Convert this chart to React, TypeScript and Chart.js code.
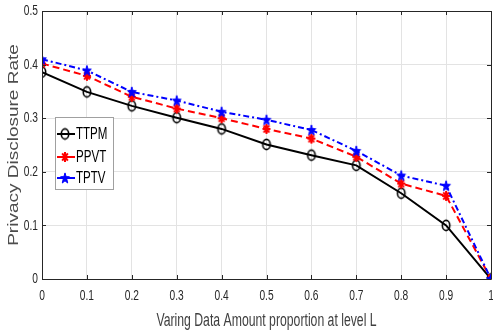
import React, { useEffect, useRef } from "react";
import { Chart, registerables } from "chart.js";

Chart.register(...registerables);

const xValues = [0, 0.1, 0.2, 0.3, 0.4, 0.5, 0.6, 0.7, 0.8, 0.9, 1];
const yTicks = [0, 0.1, 0.2, 0.3, 0.4, 0.5];
const ttpm = [0.386, 0.349, 0.323, 0.301, 0.280, 0.251, 0.231, 0.212, 0.160, 0.100, 0.0];
const ppvt = [0.402, 0.379, 0.340, 0.318, 0.300, 0.280, 0.262, 0.228, 0.178, 0.155, 0.0];
const tptv = [0.410, 0.389, 0.349, 0.333, 0.312, 0.297, 0.278, 0.239, 0.193, 0.174, 0.0];
const seriesNames = ["TTPM", "PPVT", "TPTV"];
const xTitle = "Varing Data Amount proportion at level L";
const yTitle = "Privacy Disclosure Rate";

const FONT = "'Liberation Sans', Arial, sans-serif";
const SQ = 0.68;

function makePentagram(rx: number, ry: number, color: string) {
  const w = Math.ceil(rx * 2 + 4), h = Math.ceil(ry * 2 + 4);
  const c = document.createElement("canvas");
  c.width = w;
  c.height = h;
  const ctx = c.getContext("2d")!;
  const cx = w / 2, cy = h / 2 + 0.5;
  ctx.beginPath();
  for (let i = 0; i < 10; i++) {
    const k = i % 2 === 0 ? 1 : 0.42;
    const a = -Math.PI / 2 + (i * Math.PI) / 5;
    const x = cx + rx * k * Math.cos(a);
    const y = cy + ry * k * Math.sin(a);
    if (i === 0) ctx.moveTo(x, y);
    else ctx.lineTo(x, y);
  }
  ctx.closePath();
  ctx.fillStyle = color;
  ctx.fill();
  ctx.strokeStyle = color;
  ctx.lineWidth = 1;
  ctx.stroke();
  return c;
}

function makeAsterisk(rx: number, ry: number, color: string) {
  const w = Math.ceil(rx * 2 + 4), h = Math.ceil(ry * 2 + 4);
  const c = document.createElement("canvas");
  c.width = w;
  c.height = h;
  const ctx = c.getContext("2d")!;
  const cx = w / 2, cy = h / 2;
  ctx.strokeStyle = color;
  ctx.lineWidth = 2;
  ctx.beginPath();
  for (let i = 0; i < 4; i++) {
    const a = (i * Math.PI) / 4;
    ctx.moveTo(cx - rx * Math.cos(a), cy - ry * Math.sin(a));
    ctx.lineTo(cx + rx * Math.cos(a), cy + ry * Math.sin(a));
  }
  ctx.stroke();
  return c;
}

function makeEllipse(rx: number, ry: number, color: string) {
  const w = Math.ceil(rx * 2 + 4), h = Math.ceil(ry * 2 + 4);
  const c = document.createElement("canvas");
  c.width = w;
  c.height = h;
  const ctx = c.getContext("2d")!;
  ctx.strokeStyle = color;
  ctx.lineWidth = 1.6;
  ctx.beginPath();
  ctx.ellipse(w / 2, h / 2, rx, ry, 0, 0, Math.PI * 2);
  ctx.stroke();
  return c;
}

function drawText(ctx: CanvasRenderingContext2D, text: string, x: number, y: number, align: CanvasTextAlign, size: number, color: string) {
  ctx.save();
  ctx.translate(x, y);
  ctx.scale(SQ, 1);
  ctx.font = `${size}px ${FONT}`;
  ctx.fillStyle = color;
  ctx.textAlign = align;
  ctx.textBaseline = "middle";
  ctx.fillText(text, 0, 0);
  ctx.restore();
}

const fmt = (v: number) => String(Math.round(v * 10) / 10);

export default function App() {
  const ref = useRef<HTMLCanvasElement>(null);

  useEffect(() => {
    document.body.style.margin = "0";
    const star = makePentagram(4.6, 5.6, "#0000ff");
    const aster = makeAsterisk(4, 5, "#ff0000");
    const ring = makeEllipse(3.7, 5.1, "#000000");

    const boxPlugin = {
      id: "boxPlugin",
      afterDatasetsDraw(chart: any) {
        const { ctx, chartArea } = chart;
        const { left, right, top, bottom } = chartArea;
        const xs = chart.scales.x;
        const ys = chart.scales.y;
        ctx.save();
        ctx.strokeStyle = "#262626";
        ctx.lineWidth = 1;
        ctx.setLineDash([]);
        ctx.beginPath();
        ctx.rect(Math.round(left) + 0.5, Math.round(top) + 0.5, Math.round(right - left), Math.round(bottom - top));
        const tl = 4;
        xValues.forEach((v) => {
          const x = Math.round(xs.getPixelForValue(v)) + 0.5;
          ctx.moveTo(x, bottom);
          ctx.lineTo(x, bottom - tl);
          ctx.moveTo(x, top);
          ctx.lineTo(x, top + tl);
        });
        yTicks.forEach((v) => {
          const y = Math.round(ys.getPixelForValue(v)) + 0.5;
          ctx.moveTo(left, y);
          ctx.lineTo(left + tl, y);
          ctx.moveTo(right, y);
          ctx.lineTo(right - tl, y);
        });
        ctx.stroke();

        // tick labels
        xValues.forEach((v) => {
          drawText(ctx, fmt(v), xs.getPixelForValue(v), 296, "center", 15, "#262626");
        });
        yTicks.forEach((v) => {
          drawText(ctx, fmt(v), left - 4, ys.getPixelForValue(v), "right", 15, "#262626");
        });
        // titles
        drawText(ctx, xTitle, (left + right) / 2, 321, "center", 18, "#404040");
        ctx.save();
        ctx.translate(14.5, (top + bottom) / 2);
        ctx.scale(0.75, 1);
        ctx.rotate(-Math.PI / 2);
        ctx.font = `19px ${FONT}`;
        ctx.fillStyle = "#4d4d4d";
        ctx.textAlign = "center";
        ctx.textBaseline = "middle";
        ctx.fillText(yTitle, 0, 0);
        ctx.restore();

        // legend
        const lx = 55, ly = 117, lw = 58, lh = 72;
        ctx.fillStyle = "#ffffff";
        ctx.fillRect(lx, ly, lw, lh);
        ctx.strokeStyle = "#a0a0a0";
        ctx.lineWidth = 1;
        ctx.strokeRect(lx + 0.5, ly + 0.5, lw, lh);
        const rows = [134, 157, 178];
        const colors = ["#000000", "#ff0000", "#0000ff"];
        const imgs = [ring, aster, star];
        rows.forEach((y, i) => {
          ctx.strokeStyle = colors[i];
          ctx.lineWidth = 2;
          ctx.beginPath();
          ctx.moveTo(57, y);
          ctx.lineTo(75, y);
          ctx.stroke();
          const img = imgs[i];
          ctx.drawImage(img, 65 - img.width / 2, y - img.height / 2);
          drawText(ctx, seriesNames[i], 76, y, "left", 17, "#000000");
        });
        ctx.restore();
      },
    };

    const chart = new Chart(ref.current!, {
      type: "line",
      data: {
        datasets: [
          {
            label: seriesNames[0],
            data: xValues.map((x, i) => ({ x, y: ttpm[i] })),
            borderColor: "#000000",
            borderWidth: 2,
            pointStyle: ring,
            order: 2,
          },
          {
            label: seriesNames[1],
            data: xValues.map((x, i) => ({ x, y: ppvt[i] })),
            borderColor: "#ff0000",
            borderWidth: 2,
            borderDash: [7, 4],
            pointStyle: aster,
            order: 1,
          },
          {
            label: seriesNames[2],
            data: xValues.map((x, i) => ({ x, y: tptv[i] })),
            borderColor: "#0000ff",
            borderWidth: 2,
            borderDash: [6, 3, 2, 3],
            pointStyle: star,
            order: 0,
          },
        ],
      },
      options: {
        animation: false,
        responsive: false,
        maintainAspectRatio: false,
        layout: { padding: { left: 42, right: 2, top: 11, bottom: 55 } },
        plugins: { legend: { display: false }, tooltip: { enabled: false } },
        scales: {
          x: {
            type: "linear",
            min: 0,
            max: 1,
            afterFit(scale: any) {
              scale.height = 0;
              scale.paddingLeft = 0;
              scale.paddingRight = 0;
            },
            afterBuildTicks(scale: any) {
              scale.ticks = xValues.map((v) => ({ value: v }));
            },
            ticks: { display: false },
            grid: { color: "#e3e3e3", drawTicks: false },
            border: { display: false },
          },
          y: {
            type: "linear",
            min: 0,
            max: 0.5,
            afterFit(scale: any) {
              scale.width = 0;
              scale.paddingTop = 0;
              scale.paddingBottom = 0;
            },
            ticks: { display: false, stepSize: 0.1 },
            grid: { color: "#e3e3e3", drawTicks: false },
            border: { display: false },
          },
        },
      },
      plugins: [boxPlugin],
    });
    return () => chart.destroy();
  }, []);

  return (
    <div style={{ position: "fixed", left: 0, top: 0, width: 493, height: 334, overflow: "hidden", background: "#fff" }}>
      <canvas ref={ref} width={497} height={334} style={{ width: 497, height: 334, display: "block" }} />
    </div>
  );
}
